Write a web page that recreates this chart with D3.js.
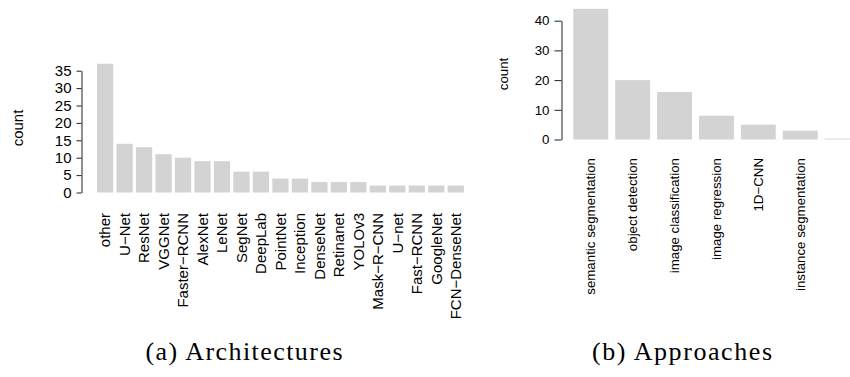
<!DOCTYPE html>
<html>
<head>
<meta charset="utf-8">
<script src="https://cdn.jsdelivr.net/npm/d3@7"></script>
<style>
  html, body { margin: 0; padding: 0; background: #fff; }
  svg { display: block; }
  .lbl { font-family: "Liberation Sans", Arial, Helvetica, sans-serif; fill: #000; }
  .cap { font-family: "Liberation Serif", "Times New Roman", serif; fill: #000; }
</style>
</head>
<body>
<svg id="fig" width="850" height="377"></svg>
<script>
// (a) architectures
const archNames = ["other", "U−Net", "ResNet", "VGGNet", "Faster−RCNN", "AlexNet", "LeNet",
  "SegNet", "DeepLab", "PointNet", "Inception", "DenseNet", "Retinanet", "YOLOv3",
  "Mask−R−CNN", "U−net", "Fast−RCNN", "GoogleNet", "FCN−DenseNet"];
const archCounts = [37, 14, 13, 11, 10, 9, 9, 6, 6, 4, 4, 3, 3, 3, 2, 2, 2, 2, 2];
const archTicks = [0, 5, 10, 15, 20, 25, 30, 35];

// (b) approaches
const apprNames = ["semantic segmentation", "object detection", "image classification",
  "image regression", "1D−CNN", "instance segmentation", ""];
const apprCounts = [44, 20, 16, 8, 5, 3, 0.3];
const apprTicks = [0, 10, 20, 30, 40];

const captions = ["(a) Architectures", "(b) Approaches"];

const svg = d3.select("#fig");
const barFill = "#d3d3d3";
const axisColor = "#222";

function panel(cfg) {
  const n = cfg.names.length;
  const x = d3.scaleBand()
    .domain(cfg.names.map((d, i) => i))
    .range([cfg.x0, cfg.x0 + n * cfg.step - cfg.step / 6])
    .paddingInner(1 / 6)
    .paddingOuter(0);
  const y = d3.scaleLinear()
    .domain([0, cfg.ticks[cfg.ticks.length - 1]])
    .range([cfg.yZero, cfg.yTop]);

  const g = svg.append("g");

  g.selectAll("rect.bar")
    .data(cfg.values)
    .join("rect")
    .attr("class", "bar")
    .attr("x", (d, i) => x(i))
    .attr("width", x.bandwidth())
    .attr("y", d => y(d))
    .attr("height", d => y(0) - y(d))
    .attr("fill", barFill);

  const ax = g.append("g")
    .attr("transform", `translate(${cfg.axisX},0)`)
    .call(d3.axisLeft(y)
      .tickValues(cfg.ticks)
      .tickFormat(d3.format("d"))
      .tickSizeInner(cfg.tick)
      .tickSizeOuter(0)
      .tickPadding(cfg.pad));
  ax.select(".domain").attr("stroke", axisColor);
  ax.selectAll(".tick line").attr("stroke", axisColor);
  ax.selectAll(".tick text")
    .attr("class", "lbl")
    .attr("font-size", cfg.font)
    .attr("font-family", null)
    .attr("fill", "#000");

  g.selectAll("text.name")
    .data(cfg.names)
    .join("text")
    .attr("class", "lbl name")
    .attr("font-size", cfg.font)
    .attr("text-anchor", "end")
    .attr("dy", "0.35em")
    .attr("transform", (d, i) => `translate(${x(i) + x.bandwidth() / 2},${cfg.labelTop}) rotate(-90)`)
    .text(d => d);

  g.append("text")
    .attr("class", "lbl")
    .attr("font-size", cfg.font)
    .attr("text-anchor", "middle")
    .attr("dy", "0.35em")
    .attr("transform", `translate(${cfg.titleX},${cfg.titleY}) rotate(-90)`)
    .text("count");

  g.append("text")
    .attr("class", "cap")
    .attr("font-size", 26)
    .attr("text-anchor", "middle")
    .attr("x", cfg.capX)
    .attr("y", 360)
    .attr("textLength", cfg.capW)
    .attr("lengthAdjust", "spacing")
    .text(cfg.caption);
}

panel({
  names: archNames, values: archCounts, ticks: archTicks,
  x0: 97, step: 19.48, yZero: 192.5, yTop: 70.7,
  axisX: 81.5, tick: 5, pad: 5, font: 15,
  labelTop: 213, titleX: 18, titleY: 128,
  caption: captions[0], capX: 244, capW: 197
});

panel({
  names: apprNames, values: apprCounts, ticks: apprTicks,
  x0: 573.3, step: 41.9, yZero: 139.5, yTop: 20.7,
  axisX: 561.5, tick: 7, pad: 5, font: 13.3,
  labelTop: 158, titleX: 503, titleY: 74,
  caption: captions[1], capX: 682, capW: 180
});
</script>
</body>
</html>
